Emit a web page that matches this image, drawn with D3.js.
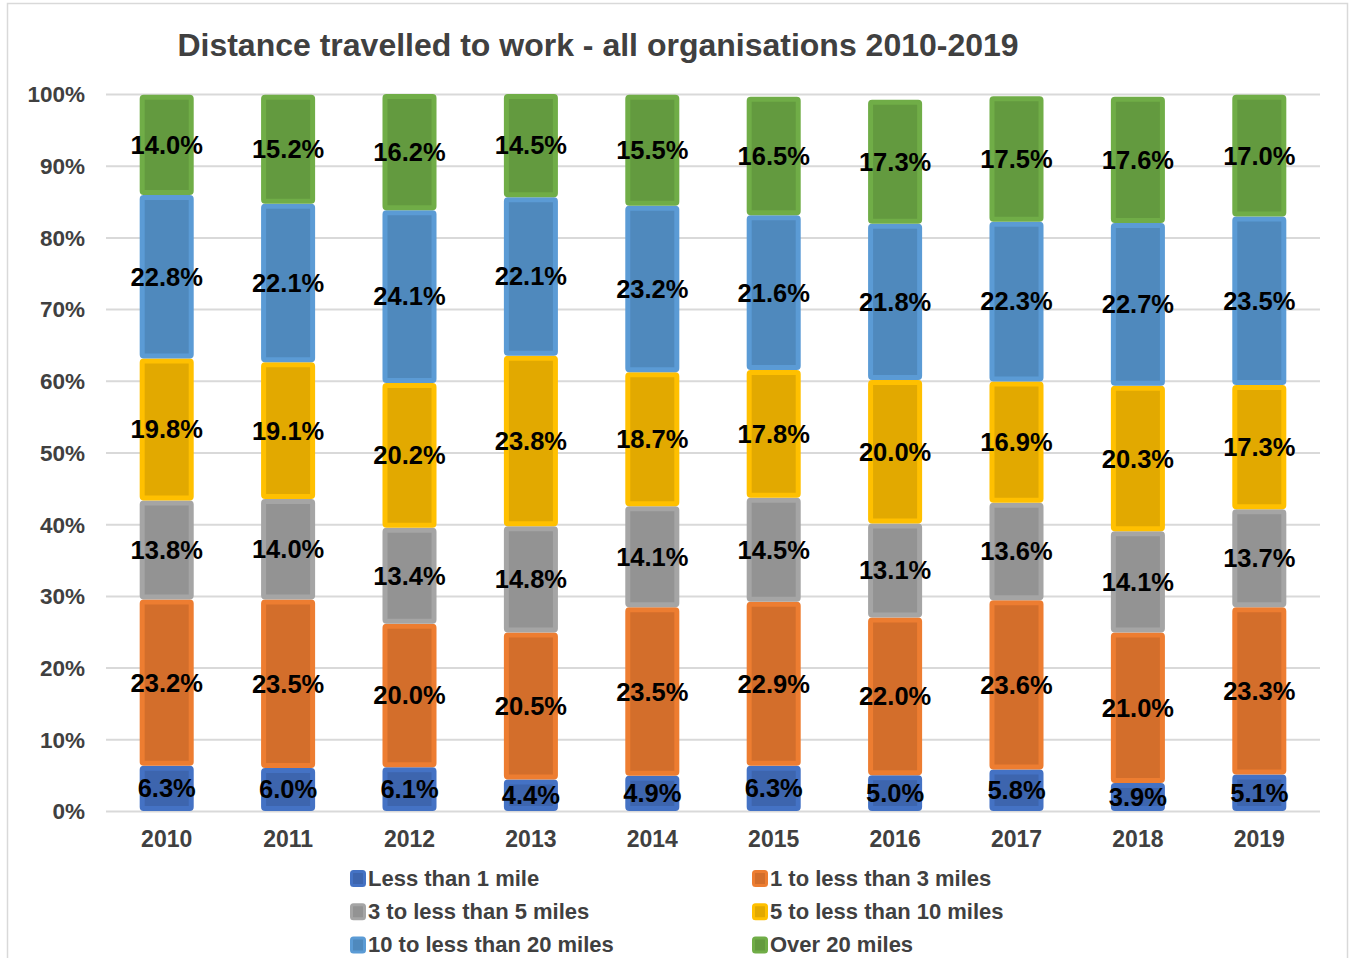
<!DOCTYPE html>
<html>
<head>
<meta charset="utf-8">
<script src="https://cdn.jsdelivr.net/npm/d3@7"></script>
<style>
  html, body { margin: 0; padding: 0; background: #fff; }
  svg { display: block; font-family: Arial, "Liberation Sans", sans-serif; }
</style>
</head>
<body>
<svg id="chart" width="1349" height="958"></svg>
<script>
// Distance travelled to work, share of staff by band, 2010-2019
const years = ["2010", "2011", "2012", "2013", "2014", "2015", "2016", "2017", "2018", "2019"];
const bands = ["Less than 1 mile", "1 to less than 3 miles", "3 to less than 5 miles",
               "5 to less than 10 miles", "10 to less than 20 miles", "Over 20 miles"];
const lessThan1 = [6.3, 6.0, 6.1, 4.4, 4.9, 6.3, 5.0, 5.8, 3.9, 5.1];
const oneToThree = [23.2, 23.5, 20.0, 20.5, 23.5, 22.9, 22.0, 23.6, 21.0, 23.3];
const threeToFive = [13.8, 14.0, 13.4, 14.8, 14.1, 14.5, 13.1, 13.6, 14.1, 13.7];
const fiveToTen = [19.8, 19.1, 20.2, 23.8, 18.7, 17.8, 20.0, 16.9, 20.3, 17.3];
const tenToTwenty = [22.8, 22.1, 24.1, 22.1, 23.2, 21.6, 21.8, 22.3, 22.7, 23.5];
const over20 = [14.0, 15.2, 16.2, 14.5, 15.5, 16.5, 17.3, 17.5, 17.6, 17.0];
const yTicks = [0, 10, 20, 30, 40, 50, 60, 70, 80, 90, 100];

const seriesValues = [lessThan1, oneToThree, threeToFive, fiveToTen, tenToTwenty, over20];
const edgeColors = ["#4472C4", "#ED7D31", "#A5A5A5", "#FFC000", "#5B9BD5", "#70AD47"];
const fillColors = ["#3D65AE", "#D36E2B", "#939393", "#E2A900", "#4F89BD", "#639A3F"];

const svg = d3.select("#chart");

// chart frame
svg.append("rect")
  .attr("x", 7.5).attr("y", 3.5).attr("width", 1340).attr("height", 1000)
  .attr("fill", "none").attr("stroke", "#d9d9d9").attr("stroke-width", 1.5);

const x = d3.scaleBand().domain(years).range([106, 1320]).paddingInner(0.555).paddingOuter(0.2775);
const y = d3.scaleLinear().domain([0, 100]).range([811, 94]);

// title
svg.append("text")
  .attr("x", 598).attr("y", 56)
  .attr("text-anchor", "middle")
  .attr("font-size", 32).attr("font-weight", "bold").attr("fill", "#404040")
  .text("Distance travelled to work - all organisations 2010-2019");

// gridlines and y axis
const yAxis = d3.axisLeft(y).tickValues(yTicks).tickSize(-(1320 - 106)).tickFormat(d => d + "%");
const gy = svg.append("g").attr("transform", "translate(106,0)").call(yAxis);
gy.select(".domain").remove();
gy.selectAll(".tick line").attr("stroke", "#d9d9d9").attr("stroke-width", 2);
gy.selectAll(".tick text")
  .attr("x", -21).attr("dy", "0.35em")
  .attr("font-size", 22.5).attr("font-weight", "bold").attr("fill", "#404040")
  .attr("font-family", "Arial, 'Liberation Sans', sans-serif");

// x axis labels
const xAxis = d3.axisBottom(x).tickSize(0);
const gx = svg.append("g").attr("transform", "translate(0,811)").call(xAxis);
gx.select(".domain").remove();
gx.selectAll(".tick text")
  .attr("y", 28).attr("dy", "0.35em")
  .attr("font-size", 23).attr("font-weight", "bold").attr("fill", "#404040")
  .attr("font-family", "Arial, 'Liberation Sans', sans-serif");

// stacked data
const rows = years.map((yr, i) => {
  const r = { year: yr };
  bands.forEach((b, j) => { r[b] = seriesValues[j][i]; });
  return r;
});
const stacked = d3.stack().keys(bands)(rows);

const bw = x.bandwidth();
const sw = 5;
const layers = svg.append("g").selectAll("g").data(stacked).join("g");

// segments are capped at the 100% line of the axis
layers.selectAll("rect").data(d => d).join("rect")
  .attr("x", d => x(d.data.year) + sw / 2)
  .attr("y", d => y(Math.min(100, d[1])) + sw / 2)
  .attr("width", bw - sw)
  .attr("height", d => Math.max(0, y(d[0]) - y(Math.min(100, d[1])) - sw))
  .attr("rx", 1.5)
  .attr("fill", (d, i, n) => fillColors[bands.indexOf(d3.select(n[i].parentNode).datum().key)])
  .attr("stroke", (d, i, n) => edgeColors[bands.indexOf(d3.select(n[i].parentNode).datum().key)])
  .attr("stroke-width", sw);

// value labels
layers.selectAll("text").data(d => d).join("text")
  .attr("x", d => x(d.data.year) + bw / 2)
  .attr("y", d => y((d[0] + d[1]) / 2))
  .attr("dy", "0.35em")
  .attr("text-anchor", "middle")
  .attr("font-size", 25.5).attr("font-weight", "bold").attr("fill", "#000")
  .text(d => (d[1] - d[0]).toFixed(1) + "%");

// legend
const legendPos = bands.map((b, i) => ({ name: b, i, col: i % 2, row: Math.floor(i / 2) }));
const lg = svg.append("g").selectAll("g").data(legendPos).join("g")
  .attr("transform", d => `translate(${350 + d.col * 402},${878 + d.row * 33.3})`);
lg.append("rect")
  .attr("x", 1.5).attr("y", -6.5).attr("width", 13).attr("height", 14).attr("rx", 2)
  .attr("fill", d => fillColors[d.i]).attr("stroke", d => edgeColors[d.i]).attr("stroke-width", 3);
lg.append("text")
  .attr("x", 18).attr("y", 0).attr("dy", "0.35em")
  .attr("font-size", 22).attr("font-weight", "bold").attr("fill", "#404040")
  .text(d => d.name);
</script>
</body>
</html>
